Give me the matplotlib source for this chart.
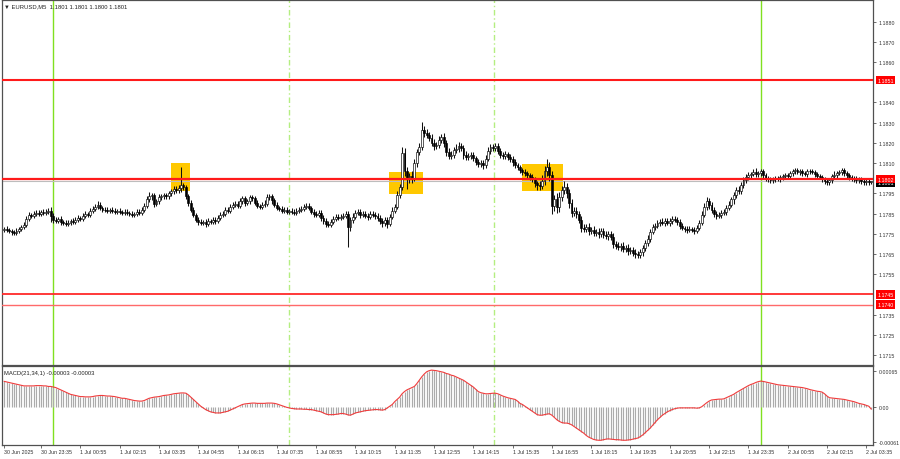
import matplotlib
matplotlib.use('Agg')
import matplotlib.pyplot as plt
from matplotlib.patches import Rectangle

plt.rcParams['font.family'] = ['Liberation Sans', 'DejaVu Sans']

# ---------------- data (prices in pips above 1.1700, MACD in 1e-5) ----------------
first_open = 77.0
closes = [
    77.5, 77.0, 76.5, 76.0, 75.5, 76.5, 77.5, 78.5, 79.5, 82.5,
    84.5, 84.0, 85.0, 85.5, 85.0, 86.0, 85.5, 86.0, 86.5, 84.0,
    82.0, 81.5, 82.5, 81.0, 80.5, 80.0, 80.5, 81.5, 81.0, 82.0,
    83.0, 82.5, 84.0, 85.0, 84.5, 86.5, 87.5, 88.5, 89.5, 88.0,
    87.0, 87.0, 86.5, 87.0, 86.5, 86.0, 86.5, 86.0, 85.5, 86.0,
    85.5, 85.0, 84.5, 85.0, 86.0, 85.5, 87.0, 89.0, 92.0, 93.5,
    94.0, 90.0, 91.0, 93.0, 93.5, 94.0, 93.5, 95.0, 96.0, 97.0,
    96.5, 97.5, 99.0, 98.0, 93.5, 90.5, 87.0, 84.5, 82.0, 81.0,
    80.5, 81.0, 80.0, 81.5, 81.0, 82.0, 81.5, 83.0, 84.5, 85.0,
    87.0, 86.5, 88.5, 89.5, 90.0, 89.0, 91.0, 92.5, 90.5, 91.0,
    93.0, 92.5, 90.5, 89.0, 88.5, 89.5, 90.0, 93.0, 93.5, 91.5,
    89.5, 88.0, 87.5, 86.5, 87.0, 86.0, 86.5, 86.0, 85.5, 86.5,
    87.0, 87.5, 88.5, 89.0, 88.0, 86.0, 85.0, 84.5, 85.5, 83.0,
    81.5, 80.0, 79.5, 81.0, 82.5, 83.5, 83.0, 83.5, 84.0, 85.0,
    78.5, 82.0, 83.5, 85.5, 86.0, 84.5, 85.0, 84.0, 83.5, 85.0,
    84.5, 84.0, 83.0, 81.5, 80.5, 82.0, 80.0, 83.5, 86.5, 88.5,
    94.0, 98.0, 115.0, 106.0, 102.0, 103.5, 102.5, 110.0, 115.5, 118.0,
    126.5, 125.0, 124.0, 122.5, 120.0, 118.5, 119.0, 121.5, 123.0, 120.0,
    115.5, 113.5, 114.0, 116.5, 117.0, 118.5, 117.5, 114.0, 113.0, 113.5,
    114.0, 112.5, 110.5, 109.5, 110.0, 109.0, 112.0, 116.0, 118.0, 117.5,
    118.5, 116.0, 114.0, 113.5, 114.5, 113.0, 112.0, 110.5, 109.0, 108.0,
    106.5, 105.5, 105.0, 104.0, 103.0, 102.0, 100.0, 99.0, 98.5, 101.0,
    106.0, 108.0, 104.0, 89.0, 92.0, 88.5, 93.0, 96.5, 98.0, 95.0,
    90.5, 85.5, 86.5, 85.0, 82.0, 78.0, 77.5, 78.5, 76.5, 77.0,
    75.5, 76.0, 75.0, 76.5, 74.5, 74.0, 75.0, 73.5, 70.0, 69.0,
    68.5, 69.0, 67.5, 68.0, 66.5, 67.0, 65.5, 65.0, 64.5, 66.0,
    68.0, 70.5, 72.5, 76.0, 78.5, 79.0, 80.5, 81.0, 80.5, 81.5,
    80.5, 81.5, 82.5, 82.0, 81.0, 79.0, 78.0, 77.5, 77.0, 77.5,
    77.0, 76.5, 78.0, 80.5, 84.5, 88.5, 91.0, 89.5, 87.0, 85.0,
    84.0, 84.5, 85.5, 86.0, 88.0, 89.5, 92.0, 94.0, 96.5, 96.0,
    99.0, 101.5, 103.0, 104.0, 104.5, 105.5, 104.5, 105.0, 106.0, 104.0,
    102.5, 102.0, 101.5, 102.0, 102.5, 102.0, 103.0, 103.5, 104.0, 103.5,
    105.0, 106.0, 106.5, 105.5, 106.0, 105.0, 104.5, 106.0, 106.0, 105.5,
    104.5, 103.5, 103.0, 102.0, 101.0, 100.5, 101.5, 103.5, 104.0, 105.0,
    105.5, 106.5, 105.0, 104.0, 103.0, 102.0, 102.5, 101.5, 102.0, 101.0,
    100.5, 101.0, 100.5, 101.0,
]
wick_up = [
    1.0, 1.3, 1.0, 1.1, 1.0, 1.2, 1.0, 1.1, 1.3, 1.5,
    1.1, 1.0, 1.3, 1.1, 1.2, 1.0, 1.3, 1.1, 1.2, 1.8,
    1.1, 1.3, 1.0, 1.1, 1.0, 1.2, 1.1, 1.0, 1.3, 1.1,
    1.2, 1.0, 1.1, 1.3, 1.0, 1.2, 1.1, 1.4, 1.8, 1.1,
    1.0, 1.2, 1.1, 1.0, 1.3, 1.1, 1.0, 1.2, 1.0, 1.1,
    1.1, 1.0, 1.2, 1.0, 1.1, 1.3, 1.1, 1.2, 1.5, 2.0,
    1.4, 1.1, 1.2, 1.5, 1.1, 1.3, 1.2, 1.1, 1.3, 1.5,
    1.5, 1.8, 9.0, 1.3, 1.1, 1.2, 1.0, 1.1, 1.0, 1.2,
    1.1, 1.0, 1.2, 1.1, 1.0, 1.3, 1.1, 1.2, 1.1, 1.3,
    1.2, 1.5, 1.1, 1.3, 1.2, 1.1, 1.5, 1.3, 1.2, 1.1,
    1.3, 1.2, 1.1, 1.3, 1.0, 1.2, 1.5, 1.5, 1.3, 1.1,
    1.2, 1.1, 1.0, 1.3, 1.1, 1.2, 1.0, 1.1, 1.3, 1.2,
    1.1, 1.3, 1.5, 1.2, 1.1, 1.0, 1.3, 1.1, 1.2, 1.1,
    1.3, 1.1, 1.2, 1.5, 1.1, 1.3, 1.2, 1.5, 1.5, 1.3,
    1.5, 1.3, 1.8, 1.5, 1.3, 1.2, 1.5, 1.3, 1.1, 1.5,
    1.2, 1.3, 1.1, 1.2, 1.5, 1.3, 1.5, 1.5, 1.8, 1.5,
    2.0, 1.5, 3.0, 2.5, 2.0, 1.8, 2.5, 2.0, 1.5, 2.0,
    4.0, 2.0, 1.8, 1.5, 2.0, 1.8, 1.5, 2.0, 1.5, 1.8,
    1.5, 1.8, 2.0, 1.5, 2.5, 1.8, 1.5, 1.3, 1.8, 1.5,
    1.3, 1.5, 1.2, 1.5, 1.3, 1.5, 1.8, 2.0, 1.5, 1.3,
    1.5, 1.3, 1.5, 1.5, 1.3, 1.2, 1.5, 1.3, 1.5, 1.2,
    1.3, 1.2, 1.5, 1.1, 1.3, 1.5, 1.3, 1.2, 2.0, 3.0,
    2.5, 4.0, 2.5, 2.0, 2.0, 3.0, 2.5, 2.0, 3.0, 2.0,
    2.0, 1.5, 2.0, 1.8, 1.5, 2.0, 1.8, 1.5, 1.8, 1.5,
    1.8, 1.5, 2.0, 1.3, 1.5, 1.8, 1.3, 1.5, 2.0, 1.5,
    1.8, 1.3, 2.0, 1.5, 1.8, 1.3, 1.5, 1.8, 1.3, 1.5,
    1.5, 1.3, 1.8, 1.5, 1.3, 1.5, 1.3, 1.2, 1.8, 1.4,
    1.5, 1.3, 1.2, 1.4, 1.5, 1.3, 1.2, 1.1, 1.3, 1.2,
    1.1, 1.3, 1.2, 1.5, 1.8, 2.0, 2.0, 1.5, 1.3, 1.5,
    1.3, 1.2, 1.4, 1.5, 1.3, 1.5, 1.4, 1.8, 1.5, 2.0,
    1.8, 1.5, 1.4, 1.5, 1.3, 1.4, 2.0, 1.3, 1.2, 1.1,
    1.3, 1.1, 1.2, 1.0, 1.1, 1.3, 1.2, 1.1, 1.3, 1.2,
    1.1, 1.3, 1.2, 1.1, 1.0, 1.3, 1.1, 1.2, 1.0, 1.1,
    1.2, 1.1, 1.3, 1.1, 1.0, 1.2, 1.3, 1.1, 2.0, 1.3,
    1.2, 1.1, 1.3, 1.0, 1.2, 1.1, 1.0, 1.3, 1.1, 1.2,
    1.1, 1.0, 1.0, 0.0,
]
wick_dn = [
    1.1, 1.3, 1.0, 1.5, 1.3, 1.0, 1.1, 1.0, 1.2, 1.0,
    1.1, 1.3, 1.0, 1.2, 1.1, 1.3, 1.0, 1.2, 1.1, 3.2,
    1.5, 1.3, 1.1, 1.4, 1.2, 1.3, 1.1, 1.2, 1.3, 1.1,
    1.0, 1.2, 1.1, 1.0, 1.3, 1.1, 1.2, 1.0, 1.1, 1.3,
    1.2, 1.1, 1.3, 1.0, 1.2, 1.1, 1.3, 1.2, 1.1, 1.0,
    1.2, 1.1, 1.3, 1.2, 1.0, 1.1, 1.0, 1.2, 1.1, 1.3,
    2.0, 1.7, 1.3, 1.1, 1.2, 1.1, 1.3, 1.2, 1.1, 1.3,
    1.2, 1.3, 2.0, 1.5, 1.3, 1.5, 1.3, 1.4, 1.2, 1.5,
    1.3, 1.2, 1.4, 1.1, 1.3, 1.2, 1.4, 1.1, 1.2, 1.3,
    1.1, 1.4, 1.2, 1.1, 1.3, 1.4, 1.1, 1.2, 1.5, 1.3,
    1.1, 1.3, 1.4, 1.2, 1.3, 1.1, 1.2, 1.0, 1.3, 1.5,
    1.3, 1.2, 1.4, 1.3, 1.1, 1.3, 1.2, 1.4, 1.3, 1.1,
    1.2, 1.1, 1.3, 1.2, 1.4, 1.3, 1.5, 1.3, 1.2, 1.7,
    1.5, 1.7, 1.3, 1.2, 1.3, 1.1, 1.4, 1.2, 1.3, 1.1,
    10.0, 2.0, 1.5, 1.3, 1.4, 1.5, 1.3, 1.4, 1.5, 1.3,
    1.4, 1.5, 1.7, 1.5, 2.0, 1.5, 2.3, 1.3, 1.2, 1.1,
    1.3, 1.5, 1.3, 2.5, 5.0, 2.0, 2.3, 1.5, 1.7, 1.5,
    1.7, 2.0, 1.5, 1.7, 1.5, 2.0, 1.7, 1.5, 1.7, 2.0,
    2.0, 1.7, 1.5, 1.7, 1.5, 1.5, 1.7, 2.0, 1.7, 1.5,
    1.5, 1.7, 1.5, 1.3, 1.5, 1.7, 1.3, 1.2, 1.5, 1.7,
    1.3, 1.5, 1.7, 1.3, 1.5, 1.4, 1.5, 1.7, 1.5, 1.4,
    1.5, 1.3, 1.5, 1.7, 1.4, 1.5, 2.0, 2.5, 2.0, 1.5,
    2.0, 2.5, 3.0, 4.0, 2.5, 3.0, 2.5, 2.0, 2.0, 2.5,
    2.5, 2.0, 1.7, 2.0, 1.5, 2.0, 1.7, 1.5, 2.0, 1.5,
    1.7, 1.5, 2.0, 1.7, 1.5, 1.7, 2.0, 1.5, 2.0, 1.7,
    1.5, 2.0, 1.7, 1.5, 2.0, 1.7, 1.5, 2.0, 1.5, 1.7,
    2.0, 1.5, 1.3, 1.5, 1.3, 1.5, 1.3, 1.4, 1.3, 1.5,
    1.3, 1.5, 1.4, 1.3, 1.5, 1.7, 1.3, 1.5, 1.4, 1.3,
    1.3, 1.5, 1.2, 1.3, 1.1, 1.3, 1.5, 2.0, 1.7, 1.5,
    1.5, 1.3, 1.5, 1.3, 1.5, 1.2, 1.3, 2.0, 1.5, 1.3,
    1.4, 1.3, 1.5, 1.2, 1.3, 1.1, 1.3, 1.2, 1.4, 1.3,
    1.2, 1.3, 1.1, 1.2, 1.3, 1.1, 1.2, 1.3, 1.1, 1.2,
    1.1, 1.2, 1.3, 1.1, 1.2, 1.3, 1.1, 1.2, 1.3, 1.1,
    1.2, 1.3, 1.1, 1.2, 1.3, 1.5, 1.3, 1.1, 1.2, 1.3,
    1.1, 1.2, 1.3, 1.2, 1.3, 1.1, 1.2, 1.3, 1.2, 1.1,
    1.2, 1.1, 1.3, 1.0,
]
macd = [
    46, 45, 44, 43, 42, 41, 40, 39, 38, 38,
    38, 38, 38, 38.5, 38.5, 38.5, 38, 38, 37, 37,
    36, 35, 33, 31, 29, 27, 25, 23, 22, 21,
    20, 19, 19, 18.5, 18.5, 18.5, 19, 20, 20.5, 21,
    21, 20.5, 20, 20, 19.5, 19, 18, 17, 16, 16,
    15, 14, 13, 12, 11.5, 11, 11, 12, 14, 16,
    17, 18, 18.5, 19, 20, 21, 21.5, 22, 23, 24,
    24.5, 25, 25.5, 25.5, 25, 22, 18, 14, 10, 6,
    2, -1, -4, -6, -8, -9, -10, -10, -10, -9,
    -8, -7, -5, -3, -1, 1, 3, 5, 6, 6.5,
    7, 7.5, 7.5, 7, 7, 7, 7, 7.5, 7.5, 7.5,
    7, 6, 4.5, 3, 1.5, 0, -1, -2, -2.5, -3,
    -3, -3, -3.5, -3.5, -4, -4, -5, -6, -7, -8,
    -10, -12, -13, -13, -13, -12.5, -12, -11, -11, -12,
    -13.5, -14, -12, -10, -9, -8, -7, -6, -5.5, -5,
    -4.5, -4, -4, -4.5, -5, -4, -1, 2, 5, 10,
    14, 18, 24, 28, 31, 33, 35, 37, 42, 48,
    54, 59, 63, 65, 66, 65.5, 65, 64, 63, 62,
    60, 59, 57, 56, 54, 52, 50, 48, 45, 42,
    39, 36, 32, 28, 26, 25, 24, 24, 24.5, 25,
    25, 24, 22, 20, 18.5, 17, 16, 15, 14, 11,
    7, 5, 2, -1, -4, -7, -10, -13, -14, -14,
    -13, -12, -11.5, -14, -18, -22, -25, -27, -28, -28,
    -29, -31, -34, -37, -40, -43, -46, -50, -53, -55,
    -57, -58, -58.5, -58.5, -57.5, -56.5, -56, -56.5, -57, -57.5,
    -57.5, -58, -58.5, -58.5, -58, -57.5, -56.5, -55.5, -54.5, -52,
    -49, -45, -41, -37, -32, -27, -22, -18, -14, -11,
    -8, -6, -4, -2.5, -1.5, -1, -1, -1, -1, -1,
    -1, -1, -1.5, -1, 1, 4.5, 8, 11, 13, 13.5,
    14, 14.5, 14.5, 15, 17, 19, 21, 23, 26, 28.5,
    31, 33.5, 36, 38.5, 40.5, 42, 44, 45.5, 46.5, 46,
    45, 44, 43, 42, 41, 40, 39.5, 39, 38.5, 38,
    37.5, 37, 36.5, 36, 35.5, 35, 34, 33, 31.5, 30.5,
    29.5, 28.5, 28, 27, 24, 20, 17, 16.5, 16, 15.5,
    15, 14.5, 14, 13, 12, 11, 10, 8.5, 7, 6,
    5, 3.5, 2, -3,
]

level_lines = [1.1851, 1.1802, 1.1745, 1.1740]
level_labels = ['1.1851', '1.1802', '1.1745', '1.1740']
bid_price = 1.1801
price_ticks = [1.1880, 1.1870, 1.1860, 1.1840, 1.1830, 1.1820, 1.1810, 1.1795,
               1.1785, 1.1775, 1.1765, 1.1755, 1.1735, 1.1725, 1.1715]
macd_ticks = [65, 0, -61]
macd_tick_labels = ['0.00065', '0.00', '-0.00061']
time_tick_bars = [0] + [15 + 16 * k for k in range(22)]
time_tick_labels = ['30 Jun 2025', '30 Jun 23:35', '1 Jul 00:55', '1 Jul 02:15', '1 Jul 03:35',
                    '1 Jul 04:55', '1 Jul 06:15', '1 Jul 07:35', '1 Jul 08:55', '1 Jul 10:15',
                    '1 Jul 11:35', '1 Jul 12:55', '1 Jul 14:15', '1 Jul 15:35', '1 Jul 16:55',
                    '1 Jul 18:15', '1 Jul 19:35', '1 Jul 20:55', '1 Jul 22:15', '1 Jul 23:35',
                    '2 Jul 00:55', '2 Jul 02:15', '2 Jul 03:35']
day_sep_bars = [20, 308]
session_bars = [116, 199.5]
# highlight boxes: (bar_start, bar_end, price_low, price_high)
boxes = [(67.9, 75.7, 1.17962, 1.18101),
         (156.7, 170.6, 1.17947, 1.18056),
         (210.8, 227.6, 1.17962, 1.18096)]

# ---------------- figure ----------------
W, H = 900, 460
fig = plt.figure(figsize=(9, 4.6), dpi=100)
fig.patch.set_facecolor('white')

def fx(px):
    return px / W

def fy(py):
    return 1 - py / H

ax = fig.add_axes([fx(2), fy(366), fx(873) - fx(2), fy(1) - fy(366)])
axm = fig.add_axes([fx(2), fy(446), fx(873) - fx(2), fy(367) - fy(446)])

n = len(closes)
idx = list(range(n))
c = [1.17 + v / 10000 for v in closes]
o = [1.17 + first_open / 10000] + c[:-1]
hi = [max(o[i], c[i]) + wick_up[i] / 10000 for i in range(n)]
lo = [min(o[i], c[i]) - wick_dn[i] / 10000 for i in range(n)]

x0 = (2 - 4.2) / 2.456
x1 = (873 - 4.2) / 2.456

# boxes
for b0, b1, p0, p1 in boxes:
    ax.add_patch(Rectangle((b0, p0), b1 - b0, p1 - p0, facecolor='#FFC800',
                           edgecolor='none', zorder=1))

# vertical separators
for b in day_sep_bars:
    for a in (ax, axm):
        a.axvline(b, color='#80E020', lw=1.0, zorder=2)
for b in session_bars:
    for a in (ax, axm):
        a.axvline(b, color='#B4EE80', lw=1.0, ls=(0, (4, 2, 1, 2)), zorder=2)

# horizontal levels
ax.axhline(bid_price, color='#BDBDBD', lw=0.8, zorder=2)
ax.axhline(level_lines[0], color='#FF1A1A', lw=1.5, zorder=3)
ax.axhline(level_lines[1], color='#FF1A1A', lw=1.6, zorder=6)
ax.axhline(level_lines[2], color='#FF2A2A', lw=1.3, zorder=3)
ax.axhline(level_lines[3], color='#FF6A6A', lw=1.0, zorder=3)

# candles
ax.vlines(idx, lo, hi, color='#111111', lw=0.75, zorder=4)
for i in range(n):
    bull = c[i] >= o[i]
    bot = min(o[i], c[i])
    h = abs(c[i] - o[i])
    if h < 0.00002:
        ax.hlines(c[i], i - 0.4, i + 0.4, color='black', lw=0.7, zorder=5)
    else:
        ax.add_patch(Rectangle((i - 0.38, bot), 0.76, h,
                               facecolor='white' if bull else 'black',
                               edgecolor='black', lw=0.45, zorder=5))

ax.set_xlim(x0, x1)
ax.set_ylim(1.17101, 1.18907)
ax.yaxis.tick_right()
ax.set_yticks(price_ticks)
ax.set_yticklabels(['%.4f' % t for t in price_ticks])
ax.tick_params(axis='y', length=2.5, width=0.5, labelsize=3.8, pad=1.5, colors='#333333')
ax.tick_params(axis='x', bottom=False, labelbottom=False)

# level labels on the price axis
ax.annotate('%.4f' % bid_price, xy=(1, bid_price), xycoords=('axes fraction', 'data'),
            xytext=(3.0, -1.2), textcoords='offset points', ha='left', va='center',
            fontsize=3.8, color='white', annotation_clip=False,
            bbox=dict(boxstyle='square,pad=0.3', fc='black', ec='none'))
for p, t in zip(level_lines, level_labels):
    ax.annotate(t, xy=(1, p), xycoords=('axes fraction', 'data'),
                xytext=(3.0, 0), textcoords='offset points', ha='left', va='center',
                fontsize=3.8, color='white', annotation_clip=False,
                bbox=dict(boxstyle='square,pad=0.3', fc='#FF0000', ec='none'))

# MACD pane
axm.vlines(idx, 0, macd, color='#ABABAB', lw=0.85, zorder=3)
axm.plot(idx, macd, color='#F03C3C', lw=0.8, zorder=4)
axm.set_xlim(x0, x1)
axm.set_ylim(-66.9, 73.3)
axm.yaxis.tick_right()
axm.set_yticks(macd_ticks)
axm.set_yticklabels(macd_tick_labels)
axm.tick_params(axis='y', length=2.5, width=0.5, labelsize=3.8, pad=1.5, colors='#333333')
axm.set_xticks(time_tick_bars)
axm.set_xticklabels(time_tick_labels)
axm.tick_params(axis='x', length=2, width=0.5, labelsize=3.8, pad=1.2, colors='#333333')
for lbl in axm.get_xticklabels():
    lbl.set_ha('left')

for a in (ax, axm):
    for s in a.spines.values():
        s.set_color('#505050')
        s.set_linewidth(0.9)

fig.text(fx(4), fy(7), '\u25bc EURUSD,M5  1.1801 1.1801 1.1800 1.1801', fontsize=4.2,
         va='center', ha='left', color='#222222')
fig.text(fx(4), fy(374), 'MACD(21,34,1) -0.00003 -0.00003', fontsize=4.2,
         va='center', ha='left', color='#222222')

fig.savefig('out.png', dpi=100, facecolor='white')
